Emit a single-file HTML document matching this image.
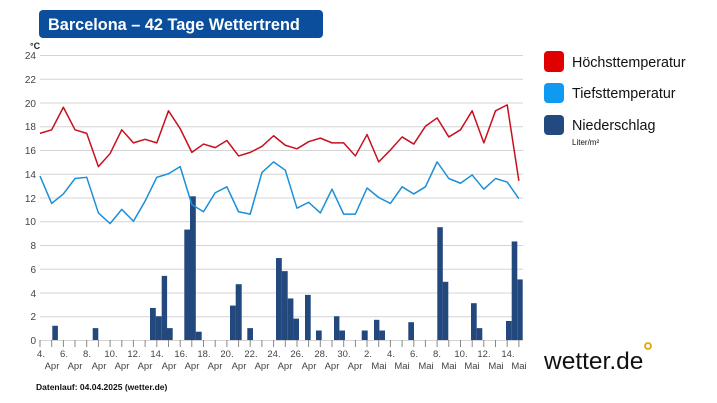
<!DOCTYPE html>
<html><head><meta charset="utf-8"><style>
html,body{margin:0;padding:0;background:#fff;}
svg{display:block;font-family:"Liberation Sans",sans-serif;}
</style></head><body>
<svg width="717" height="403" viewBox="0 0 717 403" xmlns="http://www.w3.org/2000/svg">
<rect x="39" y="10" width="284" height="28" rx="4" fill="#0b4f9c"/>
<text x="48" y="30" font-size="16.3" font-weight="bold" fill="#fff">Barcelona – 42 Tage Wettertrend</text>
<text x="30" y="49" font-size="9" font-weight="bold" fill="#222">°C</text>
<g stroke="#d4d4d4" stroke-width="1">
<line x1="40" x2="523" y1="55.5" y2="55.5"/><line x1="40" x2="523" y1="79.25" y2="79.25"/>
<line x1="40" x2="523" y1="103" y2="103"/><line x1="40" x2="523" y1="126.75" y2="126.75"/>
<line x1="40" x2="523" y1="150.5" y2="150.5"/><line x1="40" x2="523" y1="174.25" y2="174.25"/>
<line x1="40" x2="523" y1="198" y2="198"/><line x1="40" x2="523" y1="221.75" y2="221.75"/>
<line x1="40" x2="523" y1="245.5" y2="245.5"/><line x1="40" x2="523" y1="269.25" y2="269.25"/>
<line x1="40" x2="523" y1="293" y2="293"/><line x1="40" x2="523" y1="316.75" y2="316.75"/>
<line x1="40" x2="523" y1="340.5" y2="340.5"/>
</g>
<g font-size="10" fill="#444" text-anchor="end">
<text x="36" y="59">24</text><text x="36" y="83">22</text><text x="36" y="107">20</text>
<text x="36" y="130">18</text><text x="36" y="154">16</text><text x="36" y="178">14</text>
<text x="36" y="202">12</text><text x="36" y="225">10</text><text x="36" y="249">8</text>
<text x="36" y="273">6</text><text x="36" y="297">4</text><text x="36" y="320">2</text>
<text x="36" y="344">0</text>
</g>
<g transform="translate(0,340) scale(1,-11.875)" fill="#23487e">
<rect x="52.3" y="0" width="5.6" height="1.2"/>
<rect x="92.7" y="0" width="5.6" height="1.0"/>
<rect x="150" y="0" width="5.8" height="2.7"/>
<rect x="155.7" y="0" width="6" height="2.0"/>
<rect x="161.7" y="0" width="5.4" height="5.4"/>
<rect x="167" y="0" width="5.7" height="1.0"/>
<rect x="184.3" y="0" width="5.8" height="9.3"/>
<rect x="190" y="0" width="5.8" height="12.1"/>
<rect x="195.7" y="0" width="6" height="0.7"/>
<rect x="230" y="0" width="5.8" height="2.9"/>
<rect x="235.7" y="0" width="6" height="4.7"/>
<rect x="247.3" y="0" width="5.7" height="1.0"/>
<rect x="276" y="0" width="5.8" height="6.9"/>
<rect x="281.7" y="0" width="6" height="5.8"/>
<rect x="287.7" y="0" width="5.7" height="3.5"/>
<rect x="293.3" y="0" width="5.7" height="1.8"/>
<rect x="305" y="0" width="5.7" height="3.8"/>
<rect x="316" y="0" width="5.7" height="0.8"/>
<rect x="334" y="0" width="5.4" height="2.0"/>
<rect x="339.3" y="0" width="5.7" height="0.8"/>
<rect x="361.7" y="0" width="6" height="0.8"/>
<rect x="374" y="0" width="5.4" height="1.7"/>
<rect x="379.3" y="0" width="5.7" height="0.8"/>
<rect x="408.3" y="0" width="5.7" height="1.5"/>
<rect x="437.3" y="0" width="5.5" height="9.5"/>
<rect x="442.7" y="0" width="5.6" height="4.9"/>
<rect x="471" y="0" width="5.7" height="3.1"/>
<rect x="476.7" y="0" width="5.6" height="1.0"/>
<rect x="506" y="0" width="5.7" height="1.6"/>
<rect x="511.7" y="0" width="5.6" height="8.3"/>
<rect x="517.3" y="0" width="5.4" height="5.1"/>
</g>
<g transform="translate(40,340) scale(11.68,-11.875)" fill="none" stroke-linejoin="round">
<polyline vector-effect="non-scaling-stroke" stroke="#c8101e" stroke-width="1.5" points="0,17.4 1,17.7 2,19.6 3,17.7 4,17.4 5,14.6 6,15.7 7,17.7 8,16.6 9,16.9 10,16.6 11,19.3 12,17.8 13,15.8 14,16.5 15,16.2 16,16.8 17,15.5 18,15.8 19,16.3 20,17.2 21,16.4 22,16.1 23,16.7 24,17.0 25,16.6 26,16.6 27,15.5 28,17.3 29,15.0 30,16.0 31,17.1 32,16.5 33,18.0 34,18.7 35,17.1 36,17.7 37,19.3 38,16.6 39,19.3 40,19.8 41,13.4"/>
<polyline vector-effect="non-scaling-stroke" stroke="#1b8fd8" stroke-width="1.5" points="0,13.8 1,11.5 2,12.3 3,13.6 4,13.7 5,10.7 6,9.8 7,11.0 8,10.0 9,11.7 10,13.7 11,14.0 12,14.6 13,11.4 14,10.8 15,12.4 16,12.9 17,10.8 18,10.6 19,14.1 20,15.0 21,14.3 22,11.1 23,11.6 24,10.7 25,12.7 26,10.6 27,10.6 28,12.8 29,12.0 30,11.5 31,12.9 32,12.3 33,12.9 34,15.0 35,13.6 36,13.2 37,13.9 38,12.7 39,13.6 40,13.3 41,11.9"/>
</g>
<g stroke="#888" stroke-width="1">
<line x1="40" x2="40" y1="340" y2="347"/><line x1="51.7" x2="51.7" y1="340" y2="347"/><line x1="63.4" x2="63.4" y1="340" y2="347"/><line x1="75" x2="75" y1="340" y2="347"/><line x1="86.7" x2="86.7" y1="340" y2="347"/><line x1="98.4" x2="98.4" y1="340" y2="347"/><line x1="110.1" x2="110.1" y1="340" y2="347"/><line x1="121.8" x2="121.8" y1="340" y2="347"/><line x1="133.4" x2="133.4" y1="340" y2="347"/><line x1="145.1" x2="145.1" y1="340" y2="347"/><line x1="156.8" x2="156.8" y1="340" y2="347"/><line x1="168.5" x2="168.5" y1="340" y2="347"/><line x1="180.2" x2="180.2" y1="340" y2="347"/><line x1="191.8" x2="191.8" y1="340" y2="347"/><line x1="203.5" x2="203.5" y1="340" y2="347"/><line x1="215.2" x2="215.2" y1="340" y2="347"/><line x1="226.9" x2="226.9" y1="340" y2="347"/><line x1="238.6" x2="238.6" y1="340" y2="347"/><line x1="250.2" x2="250.2" y1="340" y2="347"/><line x1="261.9" x2="261.9" y1="340" y2="347"/><line x1="273.6" x2="273.6" y1="340" y2="347"/><line x1="285.3" x2="285.3" y1="340" y2="347"/><line x1="297" x2="297" y1="340" y2="347"/><line x1="308.6" x2="308.6" y1="340" y2="347"/><line x1="320.3" x2="320.3" y1="340" y2="347"/><line x1="332" x2="332" y1="340" y2="347"/><line x1="343.7" x2="343.7" y1="340" y2="347"/><line x1="355.4" x2="355.4" y1="340" y2="347"/><line x1="367" x2="367" y1="340" y2="347"/><line x1="378.7" x2="378.7" y1="340" y2="347"/><line x1="390.4" x2="390.4" y1="340" y2="347"/><line x1="402.1" x2="402.1" y1="340" y2="347"/><line x1="413.8" x2="413.8" y1="340" y2="347"/><line x1="425.4" x2="425.4" y1="340" y2="347"/><line x1="437.1" x2="437.1" y1="340" y2="347"/><line x1="448.8" x2="448.8" y1="340" y2="347"/><line x1="460.5" x2="460.5" y1="340" y2="347"/><line x1="472.2" x2="472.2" y1="340" y2="347"/><line x1="483.8" x2="483.8" y1="340" y2="347"/><line x1="495.5" x2="495.5" y1="340" y2="347"/><line x1="507.2" x2="507.2" y1="340" y2="347"/><line x1="518.9" x2="518.9" y1="340" y2="347"/>
</g>
<g font-size="9.5" fill="#444" text-anchor="middle">
<text x="41" y="357">4.</text><text x="64" y="357">6.</text><text x="87" y="357">8.</text><text x="111" y="357">10.</text><text x="134" y="357">12.</text><text x="157" y="357">14.</text><text x="181" y="357">16.</text><text x="204" y="357">18.</text><text x="227" y="357">20.</text><text x="251" y="357">22.</text><text x="274" y="357">24.</text><text x="297" y="357">26.</text><text x="321" y="357">28.</text><text x="344" y="357">30.</text><text x="368" y="357">2.</text><text x="391" y="357">4.</text><text x="414" y="357">6.</text><text x="437" y="357">8.</text><text x="461" y="357">10.</text><text x="484" y="357">12.</text><text x="508" y="357">14.</text>
<text x="52" y="369">Apr</text><text x="75" y="369">Apr</text><text x="99" y="369">Apr</text><text x="122" y="369">Apr</text><text x="145" y="369">Apr</text><text x="169" y="369">Apr</text><text x="192" y="369">Apr</text><text x="215" y="369">Apr</text><text x="239" y="369">Apr</text><text x="262" y="369">Apr</text><text x="285" y="369">Apr</text><text x="309" y="369">Apr</text><text x="332" y="369">Apr</text><text x="355" y="369">Apr</text><text x="379" y="369">Mai</text><text x="402" y="369">Mai</text><text x="426" y="369">Mai</text><text x="449" y="369">Mai</text><text x="472" y="369">Mai</text><text x="496" y="369">Mai</text><text x="519" y="369">Mai</text>
</g>
<text x="36" y="390" font-size="8.5" font-weight="bold" fill="#111">Datenlauf: 04.04.2025 (wetter.de)</text>
<rect x="544" y="51" width="20" height="21" rx="4" fill="#e10000"/>
<rect x="544" y="83" width="20" height="20" rx="4" fill="#0d9af0"/>
<rect x="544" y="115" width="20" height="20" rx="4" fill="#224a80"/>
<g font-size="14.3" fill="#111">
<text x="572" y="67">Höchsttemperatur</text>
<text x="572" y="98">Tiefsttemperatur</text>
<text x="572" y="130">Niederschlag</text>
</g>
<text x="572" y="145" font-size="8" fill="#111">Liter/m²</text>
<text x="544" y="369" font-size="24.5" fill="#111">wetter.de</text>
<circle cx="648" cy="346" r="3" fill="none" stroke="#e0a800" stroke-width="1.8"/>
</svg>
</body></html>
